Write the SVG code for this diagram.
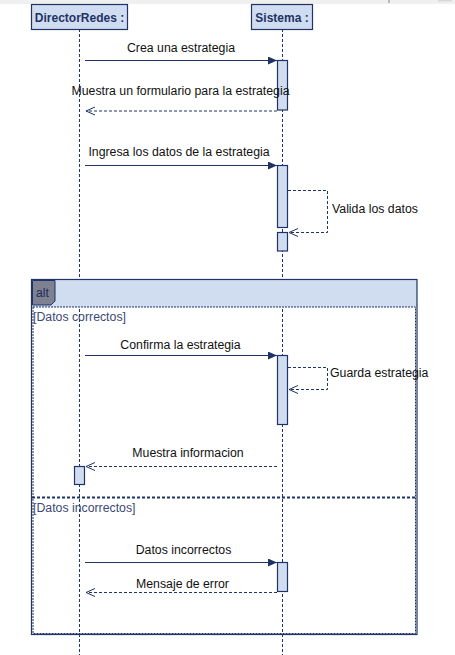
<svg xmlns="http://www.w3.org/2000/svg" width="455" height="655" viewBox="0 0 455 655">
<style>
.hdr{fill:#d0dcf0;stroke:#1f3366;stroke-width:1.2}
.hdrt{font-family:"Liberation Sans",Arial,sans-serif;font-size:12px;font-weight:bold;fill:#1f3366;text-anchor:middle}
.life{stroke:#1f3366;stroke-width:1;stroke-dasharray:3,2;fill:none}
.act{fill:#d0dcf0;stroke:#1f3366;stroke-width:1.2}
.msg{stroke:#1f3366;stroke-width:1.2;fill:none}
.ret{stroke:#1f3366;stroke-width:1;stroke-dasharray:3,2;fill:none}
.lbl{font-family:"Liberation Sans",Arial,sans-serif;font-size:12.3px;fill:#111}
.grd{font-family:"Liberation Sans",Arial,sans-serif;font-size:12.3px;fill:#3b4a78}
</style>
<defs>
<marker id="sync" markerWidth="10" markerHeight="8" refX="9" refY="4" orient="auto" markerUnits="userSpaceOnUse">
<path d="M0,0 L9,4 L0,8 Z" fill="#1f3366"/>
</marker>
<marker id="open" markerWidth="10" markerHeight="10" refX="9" refY="5" orient="auto" markerUnits="userSpaceOnUse">
<path d="M0,1 L9,5 L0,9" fill="none" stroke="#1f3366" stroke-width="1"/>
</marker>
</defs>
<rect x="0" y="0" width="455" height="655" fill="#ffffff"/>
<rect x="0" y="0" width="455" height="4" fill="#f0f0f0"/>
<rect x="388.5" y="0" width="1" height="3" fill="#888"/>
<rect x="438" y="0" width="14" height="1.5" fill="#d8d8d8"/>

<g id="lifelines">
<line class="life" x1="79.5" y1="29" x2="79.5" y2="655"/>
<line class="life" x1="282.5" y1="29" x2="282.5" y2="655"/>
</g>

<g id="frame-alt">
<rect x="31.5" y="279.5" width="385.5" height="27.5" fill="#d0dcf0"/>
<rect x="31.5" y="279.5" width="385.5" height="355" fill="none" stroke="#1f3366" stroke-width="1.2"/>
<rect x="33" y="307" width="382.5" height="326.5" fill="none" stroke="#1f3366" stroke-width="1" stroke-dasharray="2,1"/>
<path d="M32.5,280.5 H55 V301 L51,305 H32.5 Z" fill="#7d8191" stroke="#1f3366" stroke-width="1"/>
<text x="36" y="297" font-family="Liberation Sans,Arial,sans-serif" font-size="12.3" fill="#1f2d5a">alt</text>
<text class="grd" x="33" y="321">[Datos correctos]</text>
<line x1="32" y1="497.5" x2="416" y2="497.5" stroke="#1f3366" stroke-width="2" stroke-dasharray="3,2"/>
<text class="grd" x="33" y="512">[Datos incorrectos]</text>
</g>

<g id="DirectorRedes">
<rect class="hdr" x="31.5" y="4.5" width="96" height="25"/>
<text class="hdrt" x="79.5" y="21.5">DirectorRedes :</text>
</g>
<g id="Sistema">
<rect class="hdr" x="251.5" y="4.5" width="61" height="25"/>
<text class="hdrt" x="282" y="21.5">Sistema :</text>
</g>

<g id="activations">
<rect class="act" x="277.5" y="60.5" width="10" height="49.5"/>
<rect class="act" x="277.5" y="165.5" width="10" height="62"/>
<rect class="act" x="277.5" y="232.5" width="10" height="18.5"/>
<rect class="act" x="277.5" y="355.5" width="10" height="69"/>
<rect class="act" x="74.5" y="466.5" width="10" height="18"/>
<rect class="act" x="277.5" y="562.5" width="10" height="29"/>
</g>

<g id="connectors">
<line class="msg" x1="85" y1="60.5" x2="277" y2="60.5" marker-end="url(#sync)"/>
<line class="ret" x1="277" y1="111" x2="86" y2="111" marker-end="url(#open)"/>
<line class="msg" x1="85" y1="165.5" x2="277" y2="165.5" marker-end="url(#sync)"/>
<polyline class="ret" points="288,190.5 327.5,190.5 327.5,232.5 289,232.5" marker-end="url(#open)"/>
<line class="msg" x1="85" y1="355.5" x2="277" y2="355.5" marker-end="url(#sync)"/>
<polyline class="ret" points="288,367.5 327.5,367.5 327.5,389.5 289,389.5" marker-end="url(#open)"/>
<line class="ret" x1="277" y1="466.5" x2="86" y2="466.5" marker-end="url(#open)"/>
<line class="msg" x1="85" y1="562.5" x2="277" y2="562.5" marker-end="url(#sync)"/>
<line class="ret" x1="277" y1="592.5" x2="86" y2="592.5" marker-end="url(#open)"/>
</g>

<g id="labels">
<text class="lbl" x="181" y="52" text-anchor="middle">Crea una estrategia</text>
<text class="lbl" x="180.5" y="95" text-anchor="middle">Muestra un formulario para la estrategia</text>
<text class="lbl" x="179" y="156" text-anchor="middle">Ingresa los datos de la estrategia</text>
<text class="lbl" x="332" y="213">Valida los datos</text>
<text class="lbl" x="180.5" y="349" text-anchor="middle">Confirma la estrategia</text>
<text class="lbl" x="330" y="377">Guarda estrategia</text>
<text class="lbl" x="188" y="457" text-anchor="middle">Muestra informacion</text>
<text class="lbl" x="183.5" y="554" text-anchor="middle">Datos incorrectos</text>
<text class="lbl" x="182.5" y="587.5" text-anchor="middle">Mensaje de error</text>
</g>
</svg>
